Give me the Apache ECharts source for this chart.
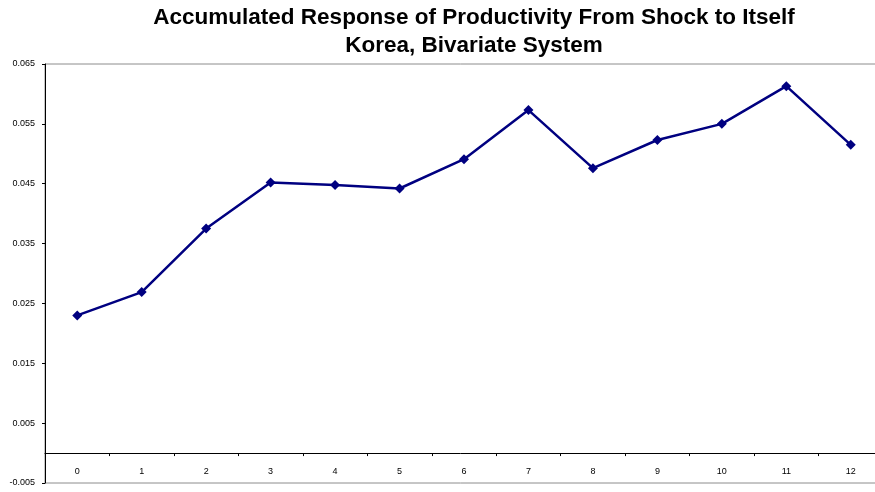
<!DOCTYPE html>
<html>
<head>
<meta charset="utf-8">
<script src="https://cdn.jsdelivr.net/npm/echarts@6/dist/echarts.min.js"></script>
<style>
  html, body { margin: 0; padding: 0; background: #fff; }
  #chart { width: 875px; height: 492px; }
</style>
</head>
<body>
<div id="chart"></div>
<script>
// Horizon (periods after the shock)
const periods = ['0', '1', '2', '3', '4', '5', '6', '7', '8', '9', '10', '11', '12'];
// Accumulated response of productivity
const response = [0.0230, 0.0269, 0.0375, 0.0452, 0.0448, 0.0442, 0.0491,
                  0.0573, 0.0476, 0.0523, 0.0550, 0.0613, 0.0515];
// Value-axis tick labels
const yTicks = [-0.005, 0.005, 0.015, 0.025, 0.035, 0.045, 0.055, 0.065];

const chart = echarts.init(document.getElementById('chart'), null, { renderer: 'canvas' });

const font = 'Liberation Sans, Arial, sans-serif';

// Plot area geometry (pixels)
const gridTop = 64;
const gridBottom = 9;
const gridHeight = 492 - gridTop - gridBottom;
// Distance from the bottom edge of the plot to the zero line
const zeroOffset = gridHeight * (0 - yTicks[0]) / (yTicks[yTicks.length - 1] - yTicks[0]);

chart.setOption({
  animation: false,
  backgroundColor: '#ffffff',
  title: {
    text: 'Accumulated Response of Productivity From Shock to Itself\nKorea, Bivariate System',
    left: 474,
    top: 4,
    textAlign: 'center',
    padding: 0,
    textStyle: {
      fontFamily: font,
      fontWeight: 'bold',
      fontSize: 22.5,
      lineHeight: 28,
      color: '#000000'
    }
  },
  grid: {
    left: 45,
    right: -8,
    top: gridTop,
    bottom: gridBottom,
    outerBoundsMode: 'none',
    containLabel: false,
    show: true,
    borderColor: '#8c8c8c',
    borderWidth: 1,
    backgroundColor: 'transparent'
  },
  xAxis: {
    type: 'category',
    data: periods,
    boundaryGap: true,
    position: 'bottom',
    offset: -zeroOffset,
    axisLine: { show: true, onZero: false, lineStyle: { color: '#000000', width: 1 } },
    axisTick: { show: true, length: 3, inside: false, lineStyle: { color: '#000000' } },
    axisLabel: {
      fontFamily: font,
      fontSize: 9,
      color: '#000000',
      margin: 14,
      interval: 0
    },
    splitLine: { show: false }
  },
  yAxis: {
    type: 'value',
    min: yTicks[0],
    max: yTicks[yTicks.length - 1],
    axisLine: { show: true, lineStyle: { color: '#000000', width: 1 } },
    axisTick: {
      show: true,
      length: 3,
      inside: false,
      customValues: yTicks,
      lineStyle: { color: '#000000' }
    },
    axisLabel: {
      fontFamily: font,
      fontSize: 9,
      color: '#000000',
      margin: 10,
      customValues: yTicks,
      formatter: function (v) { return v.toFixed(3); }
    },
    splitLine: { show: false }
  },
  series: [{
    type: 'line',
    data: response,
    symbol: 'diamond',
    symbolSize: 10,
    showAllSymbol: true,
    lineStyle: { color: '#000080', width: 2.5 },
    itemStyle: { color: '#000080' }
  }]
});
</script>
</body>
</html>
